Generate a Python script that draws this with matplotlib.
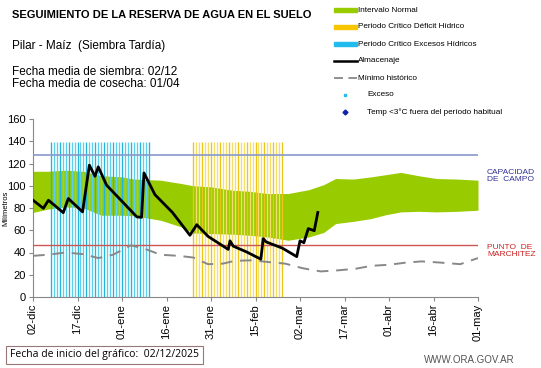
import matplotlib
matplotlib.use("Agg")
import matplotlib.pyplot as plt
import numpy as np

plt.rcParams["font.family"] = ["Liberation Sans", "DejaVu Sans"]

# ---------------- data ----------------
tick_days = [0, 15, 30, 45, 60, 75, 90, 105, 120, 135, 150]
tick_labels = ["02-dic", "17-dic", "01-ene", "16-ene", "31-ene", "15-feb",
               "02-mar", "17-mar", "01-abr", "16-abr", "01-may"]

band_days = [0, 5, 11, 17, 23, 30, 34, 43, 50, 54, 60, 67, 73, 79, 86, 93, 98, 102, 108, 114, 119, 124, 130, 136, 143, 150]
band_upper = [113, 113, 114, 113, 109, 108, 106, 105, 102, 100, 99, 96, 95, 93, 93, 96.5, 101, 106.5, 106, 108, 110, 112, 109, 106.5, 106, 105]
band_lower = [76, 79, 81, 80, 73.5, 73.5, 73, 69, 63, 57.5, 57, 56.5, 55.5, 54, 51, 54, 58, 66, 68, 70.5, 74, 76.5, 77, 76.5, 77, 78]

min_days = [0, 5, 11, 17, 22, 27, 33, 38, 43, 49, 54, 59, 64, 68, 74, 79, 85, 91, 97, 103, 109, 114, 120, 126, 131, 137, 144, 150]
min_values = [37, 38, 40, 38.5, 35, 38, 46.5, 43, 38, 37, 35.5, 29.5, 30, 32.5, 33, 31.5, 30, 25.8, 23, 24, 25.5, 28, 29, 31, 32, 31, 29.5, 35]

alm_days = [0, 3.5, 5.2, 10.2, 11.9, 16.7, 19, 20.9, 22, 24.8, 30, 35, 36.6, 37.4, 41.1, 47, 52.9, 55.2, 59, 65.8, 66.4, 67.5, 72, 76.8, 77.6, 78.6, 84, 88.9, 90, 91.3, 92.8, 94.8, 96]
alm_values = [87, 79.7, 87, 75.8, 88.5, 76.5, 118.5, 108.5, 117, 100.5, 86, 72, 71.6, 111.5, 92, 76, 55.5, 65, 54.5, 42.8, 50.5, 45.7, 40.5, 34, 52.5, 49.5, 44, 36.3, 50.5, 48.8, 61.5, 59.6, 76]

exceso_days = list(range(6, 40))
deficit_days = list(range(54, 85))
critical_top = 139

capacidad_campo = 127.5
punto_marchitez = 47

# ---------------- figure ----------------
W, H = 541, 368
fig = plt.figure(figsize=(W / 100, H / 100), dpi=100)
ax = fig.add_axes([33 / W, 1 - 297 / H, (478 - 33) / W, (297 - 119) / H])

ax.fill_between(band_days, band_lower, band_upper, color="#99CC00", lw=0, zorder=1)

for i, d in enumerate(exceso_days):
    ax.vlines(d, 0, critical_top, color="#22B4DA" if i % 3 == 0 else "#5CCFEC", lw=0.95, zorder=2)
for i, d in enumerate(deficit_days):
    ax.vlines(d, 0, critical_top, color="#EEC418" if i % 3 == 0 else "#F6DE6A", lw=0.95, zorder=2)

ax.axhline(capacidad_campo, color="#8899CC", lw=1.2, zorder=3)
ax.axhline(punto_marchitez, color="#CC5555", lw=1.0, zorder=3)

ax.plot(min_days, min_values, color="#888888", lw=1.4, ls=(0, (6, 4)), zorder=4)
ax.plot(alm_days, alm_values, color="black", lw=2.0, zorder=5)

ax.set_xlim(0, 150)
ax.set_ylim(0, 160)
ax.set_yticks(range(0, 161, 20))
ax.set_xticks(tick_days)
ax.set_xticklabels(tick_labels, rotation=90, fontsize=8)
ax.tick_params(axis="y", labelsize=8, length=3, color="#888888", pad=2)
ax.tick_params(axis="x", length=3, color="#888888", pad=2)
for s in ["top", "right"]:
    ax.spines[s].set_visible(False)
for s in ["left", "bottom"]:
    ax.spines[s].set_color("#888888")
fig.text(6 / W, 1 - 208 / H, "Milímetros", fontsize=5.5, rotation=90, va="center", ha="center")

# right-side labels
fig.text(487 / W, 1 - 176 / H, "CAPACIDAD\nDE  CAMPO", color="#333399", fontsize=6,
         va="center", ha="left", linespacing=1.1)
fig.text(487 / W, 1 - 251 / H, "PUNTO  DE\nMARCHITEZ", color="#CC2222", fontsize=6,
         va="center", ha="left", linespacing=1.1)

# header texts
fig.text(12 / W, 1 - 15 / H, "SEGUIMIENTO DE LA RESERVA DE AGUA EN EL SUELO",
         fontsize=8, fontweight="bold", va="center", ha="left")
fig.text(12 / W, 1 - 46 / H, "Pilar - Maíz  (Siembra Tardía)", fontsize=8.5, va="center", ha="left")
fig.text(12 / W, 1 - 72 / H, "Fecha media de siembra: 02/12", fontsize=8.5, va="center", ha="left")
fig.text(12 / W, 1 - 84 / H, "Fecha media de cosecha: 01/04", fontsize=8.5, va="center", ha="left")

# legend (manual)
leg_x0, leg_x1, leg_tx = 334, 357, 358
items = [
    ("patch", "#99CC00", "Intervalo Normal", 10),
    ("patch", "#F7C600", "Periodo Crítico Déficit Hídrico", 27),
    ("patch", "#22BBEE", "Periodo Crítico Excesos Hídricos", 44),
    ("line", "black", "Almacenaje", 61),
    ("dash", "#888888", "Mínimo histórico", 78),
    ("dot", "#22BBEE", "Exceso", 95),
    ("diamond", "#1122AA", "Temp <3°C fuera del período habitual", 112),
]
for kind, col, lab, yy in items:
    y = 1 - yy / H
    if kind == "patch":
        fig.patches.append(plt.Rectangle((leg_x0 / W, y - 2 / H), (leg_x1 - leg_x0) / W, 4 / H,
                                         color=col, transform=fig.transFigure, figure=fig))
    elif kind == "line":
        fig.add_artist(plt.Line2D([leg_x0 / W, leg_x1 / W], [y, y], color=col, lw=1.8))
    elif kind == "dash":
        fig.add_artist(plt.Line2D([leg_x0 / W, leg_x1 / W], [y, y], color=col, lw=1.3, ls=(0, (5, 3))))
    elif kind == "dot":
        fig.add_artist(plt.Line2D([345 / W], [y], color=col, marker="s", ms=2, lw=0))
    elif kind == "diamond":
        fig.add_artist(plt.Line2D([345 / W], [y], color=col, marker="D", ms=2.5, lw=0))
    tx = leg_tx if kind in ("patch", "line", "dash") else 367
    fig.text(tx / W, y, lab, fontsize=5.9, va="center", ha="left")

# footer
fig.text(10 / W, 1 - 355 / H, "Fecha de inicio del gráfico:  02/12/2025", fontsize=7.5,
         family="Open Sans", va="center", ha="left",
         bbox=dict(boxstyle="square,pad=0.35", fc="white", ec="#997777", lw=0.8))
fig.text(424 / W, 1 - 360 / H, "WWW.ORA.GOV.AR", fontsize=7, color="#555555", va="center", ha="left")

fig.savefig("out.png", dpi=100)
